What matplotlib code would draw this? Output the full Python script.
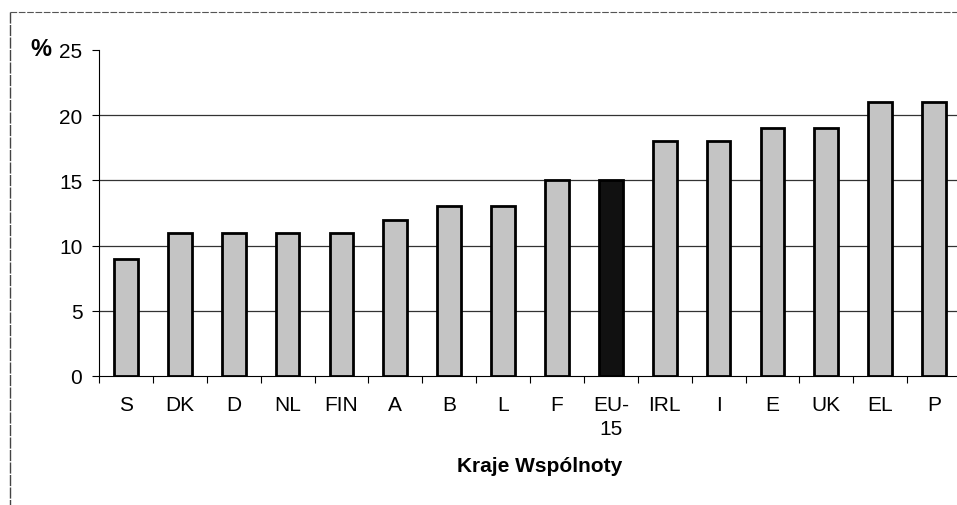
import matplotlib
matplotlib.use("Agg")
import matplotlib.pyplot as plt
from matplotlib.lines import Line2D

plt.rcParams['font.family'] = ['Liberation Sans', 'DejaVu Sans']

categories = ["S", "DK", "D", "NL", "FIN", "A", "B", "L", "F", "EU-\n15", "IRL", "I", "E", "UK", "EL", "P"]
values = [9, 11, 11, 11, 11, 12, 13, 13, 15, 15, 18, 18, 19, 19, 21, 21]
highlight = "EU-\n15"

fig = plt.figure(figsize=(9.57, 5.06), dpi=100)
ax = fig.add_axes([99/957, 1-377/506, 862/957, (377-51)/506])

colors = ["#111111" if c == highlight else "#c4c4c4" for c in categories]
x = list(range(len(categories)))
ax.bar(x, values, width=0.44, color=colors, edgecolor="black", linewidth=2, zorder=3)

ax.set_ylim(0, 25)
ax.set_xlim(-0.5, len(categories) - 0.5)
ax.set_yticks([0, 5, 10, 15, 20, 25])
for v in [5, 10, 15, 20]:
    ax.axhline(v, color="#333333", linewidth=0.9, zorder=1)

ax.set_xticks(x)
ax.set_xticklabels(categories, fontsize=15, linespacing=1.3)
ax.set_xticks([i + 0.5 for i in range(-1, len(categories))], minor=True)
ax.tick_params(axis="x", which="major", length=0, pad=14)
ax.tick_params(axis="x", which="minor", length=5, direction="out", width=0.8)
ax.tick_params(axis="y", labelsize=15, length=5, width=0.8, pad=7)

for s in ["top", "right"]:
    ax.spines[s].set_visible(False)
ax.spines["left"].set_linewidth(0.8)
ax.spines["bottom"].set_linewidth(0.8)

fig.text(30/957, 1-50/506, "%", fontsize=17, fontweight="bold", ha="left", va="center")
fig.text(540/957, 1-467/506, "Kraje Wspólnoty", fontsize=15, fontweight="bold", ha="center", va="center")

# outer frame (partial)
fig.add_artist(Line2D([10/957, 1.0], [1-13/506, 1-13/506], transform=fig.transFigure,
                      color="#555555", linewidth=0.8, linestyle=(0, (6, 1.5))))
fig.add_artist(Line2D([10/957, 10/957], [1-13/506, 0.0], transform=fig.transFigure,
                      color="#444444", linewidth=1.0, linestyle=(0, (8, 1))))

fig.savefig("out.png", dpi=100)
